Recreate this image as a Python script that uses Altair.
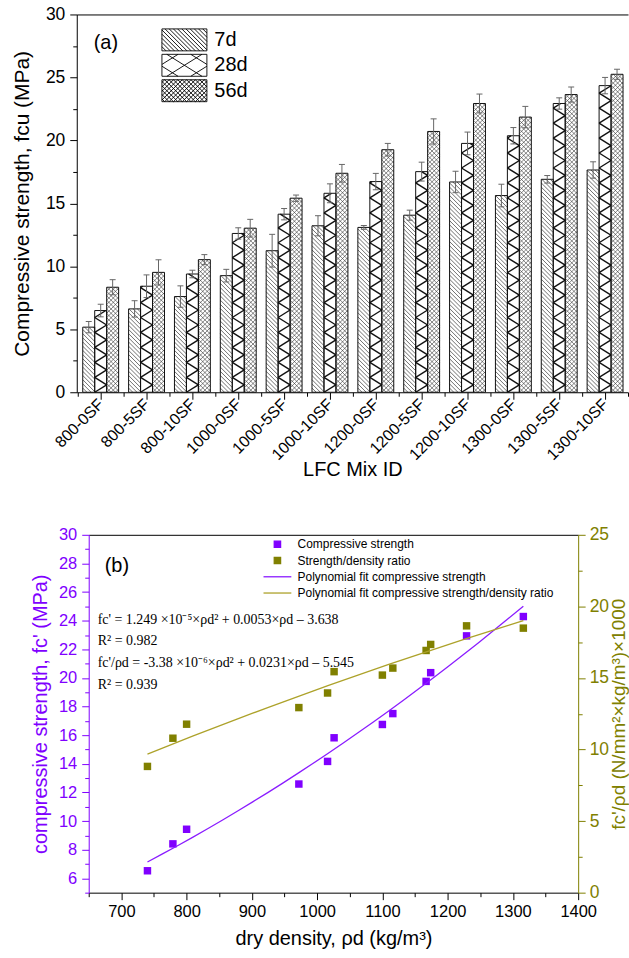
import json
import altair as alt
import numpy as np
import pandas as pd

# ---------------- data ----------------
mixes = ["800-0SF", "800-5SF", "800-10SF", "1000-0SF", "1000-5SF", "1000-10SF",
         "1200-0SF", "1200-5SF", "1200-10SF", "1300-0SF", "1300-5SF", "1300-10SF"]
ages = ["7d", "28d", "56d"]
fcu_7d = [5.17, 6.62, 7.60, 9.26, 11.24, 13.22, 13.09, 14.06, 16.70, 15.62, 16.91, 17.65]
err_7d = [0.45, 0.65, 0.85, 0.50, 1.30, 0.80, 0.15, 0.40, 0.85, 0.90, 0.30, 0.65]
fcu_28d = [6.49, 8.42, 9.39, 12.61, 14.14, 15.80, 16.73, 17.52, 19.76, 20.37, 22.93, 24.35]
err_28d = [0.50, 0.90, 0.30, 0.45, 0.45, 0.75, 0.65, 0.75, 0.90, 0.65, 0.45, 0.65]
fcu_56d = [8.34, 9.52, 10.53, 13.03, 15.41, 17.39, 19.26, 20.71, 22.93, 21.85, 23.64, 25.25]
err_56d = [0.60, 1.00, 0.40, 0.70, 0.25, 0.70, 0.50, 1.00, 0.75, 0.85, 0.60, 0.40]

density = [740, 779, 800, 972, 1016, 1026, 1100, 1116, 1167, 1174, 1229, 1316]
strength = [6.53, 8.41, 9.43, 12.59, 14.17, 15.82, 16.75, 17.51, 19.76, 20.37, 22.94, 24.29]
ratio = [8.82, 10.79, 11.77, 12.93, 13.95, 15.44, 15.20, 15.69, 16.92, 17.34, 18.64, 18.48]

legend_b = ["Compressive strength", "Strength/density ratio",
            "Polynomial fit compressive strength",
            "Polynomial fit compressive strength/density ratio"]
equations = ["fc' = 1.249 ×10⁻⁵×ρd² + 0.0053×ρd – 3.638",
             "R² = 0.982",
             "fc'/ρd = -3.38 ×10⁻⁶×ρd² + 0.0231×ρd – 5.545",
             "R² = 0.939"]

# ---------------- style ----------------
PURPLE = "#8000FF"
PURPLE_LINE = "#8A1CFF"
OLIVE = "#808000"
OLIVE_LINE = "#ADA22A"
SANS = "Liberation Sans"
SERIF = "Liberation Serif"

W1, H1 = 553, 379          # top plot area
XMIN, XMAX = -0.522, 11.5
pxx = W1 / (XMAX - XMIN)
pxy = H1 / 30.0
BAR_PX = 12.0
bw = BAR_PX / pxx
CAP_PX = 3.0

W2, H2 = 503, 359          # bottom plot area (left axis shifted in by 12 px)
SHIFT = 12

# hatch families: (slope in y-up pixel space, vertical spacing px)
HATCH = {"7d": [(-1.0, 4.2)],
         "28d": [(0.625, 15.0), (-0.625, 15.0)],
         "56d": [(1.0, 4.4), (-1.0, 4.4)]}
HSTYLE = {"7d": (0.7, "#333333"), "28d": (1.4, "#111111"), "56d": (0.6, "#333333")}


def clip_line(m, c, xa, xb, ya, yb):
    if m > 0:
        lo, hi = (ya - c) / m, (yb - c) / m
    else:
        lo, hi = (yb - c) / m, (ya - c) / m
    lo, hi = max(lo, xa), min(hi, xb)
    if hi - lo < 1e-6:
        return None
    return lo, m * lo + c, hi, m * hi + c


def family(m, spacing, xa, xb, ya, yb):
    ends = [m * xa, m * xb]
    cmin, cmax = ya - max(ends), yb - min(ends)
    out = []
    for k in range(int(np.floor(cmin / spacing)), int(np.ceil(cmax / spacing)) + 1):
        seg = clip_line(m, k * spacing, xa, xb, ya, yb)
        if seg:
            out.append(seg)
    return out


vals = {"7d": fcu_7d, "28d": fcu_28d, "56d": fcu_56d}
errs = {"7d": err_7d, "28d": err_28d, "56d": err_56d}
rows = []
for j, age in enumerate(ages):
    for i, mix in enumerate(mixes):
        c = i + (j - 1) * bw
        v, e = vals[age][i], errs[age][i]
        rows.append(dict(mix=mix, age=age, c=c, x0=c - bw / 2, x1=c + bw / 2, v=v,
                         lo=v - e, hi=v + e, cl=c - CAP_PX / pxx, cr=c + CAP_PX / pxx))
bars = pd.DataFrame(rows)


def bar_hatch(age):
    segs = []
    for r in bars[bars.age == age].itertuples():
        hpx = r.v * pxy
        for m, sp in HATCH[age]:
            for u0, v0, u1, v1 in family(m, sp, 0.0, BAR_PX, 0.0, hpx):
                segs.append({"x": round(r.x0 + u0 / pxx, 5), "x2": round(r.x0 + u1 / pxx, 5),
                             "y": round(v0 / pxy, 5), "y2": round(v1 / pxy, 5)})
    return pd.DataFrame(segs)


def swatch_path(age, hw=2.05, hh=1.0, r=11.0):
    parts = [f"M{-hw},{-hh}H{hw}V{hh}H{-hw}Z"]
    for m, sp in HATCH[age]:
        for x0, y0, x1, y1 in family(-m, sp / r, -hw, hw, -hh, hh):
            parts.append(f"M{x0:.3f},{y0:.3f}L{x1:.3f},{y1:.3f}")
    return "".join(parts)


xs = alt.Scale(domain=[XMIN, XMAX], nice=False, zero=False)
ys = alt.Scale(domain=[0, 30], nice=False, zero=False)

ax_common = dict(grid=False, labelFlush=False, labelOverlap=False, tickColor="black",
                 domainColor="black", labelColor="black", titleColor="black",
                 labelFont=SANS, titleFont=SANS, titleFontWeight="normal")

x_major = alt.Axis(orient="bottom", values=list(range(len(mixes))),
                   labelExpr=json.dumps(mixes).replace('"', "'") + "[datum.value]",
                   labelAngle=315, labelAlign="right", labelBaseline="middle",
                   labelFontSize=16, labelPadding=2, tickSize=7,
                   title="LFC Mix ID", titleFontSize=20, titlePadding=-3, **ax_common)
x_minor = alt.Axis(orient="bottom", values=[i + 0.5 for i in range(-1, len(mixes))],
                   labels=False, domain=False, tickSize=4, title=None, grid=False,
                   tickColor="black")
y_major = alt.Axis(orient="left", values=list(range(0, 31, 5)), labelFontSize=17.5,
                   tickSize=7, labelPadding=5, title="Compressive strength, fcu (MPa)",
                   titleFontSize=21, titlePadding=13, **ax_common)
y_minor = alt.Axis(orient="left", values=[2.5 + 5 * k for k in range(6)], labels=False,
                   domain=False, tickSize=4, title=None, grid=False, tickColor="black")
x_top = alt.Axis(orient="top", labels=False, ticks=False, domain=True,
                 domainColor="black", title=None, grid=False)

base1 = alt.Chart(bars)
fill_layer = base1.mark_rect(fill="white").encode(
    x=alt.X("x0:Q", scale=xs, axis=x_major), x2="x1:Q",
    y=alt.Y("v:Q", scale=ys, axis=y_major), y2=alt.datum(0))

hatch_layers = []
for age in ages:
    sw, col = HSTYLE[age]
    hatch_layers.append(alt.Chart(bar_hatch(age)).mark_rule(strokeWidth=sw, color=col).encode(
        x=alt.X("x:Q", scale=xs, axis=None), x2="x2:Q",
        y=alt.Y("y:Q", scale=ys, axis=None), y2="y2:Q"))

outline = base1.mark_rect(fillOpacity=0, stroke="#111111", strokeWidth=1).encode(
    x=alt.X("x0:Q", scale=xs, axis=x_minor), x2="x1:Q",
    y=alt.Y("v:Q", scale=ys, axis=y_minor), y2=alt.datum(0))

err = base1.mark_rule(color="#666666", strokeWidth=1).encode(
    x=alt.X("c:Q", scale=xs, axis=x_top), y=alt.Y("lo:Q", scale=ys, axis=None), y2="hi:Q")
cap_hi = base1.mark_rule(color="#666666", strokeWidth=1).encode(
    x=alt.X("cl:Q", scale=xs, axis=None), x2="cr:Q", y=alt.Y("hi:Q", scale=ys, axis=None))
cap_lo = base1.mark_rule(color="#666666", strokeWidth=1).encode(
    x=alt.X("cl:Q", scale=xs, axis=None), x2="cr:Q", y=alt.Y("lo:Q", scale=ys, axis=None))

legend_a = base1.transform_filter("false").mark_point(
    filled=False, color="black", strokeWidth=0.9).encode(
    shape=alt.Shape("age:N", scale=alt.Scale(domain=ages, range=[swatch_path(a) for a in ages]),
                    legend=alt.Legend(title=None, orient="none", legendX=85, legendY=14,
                                      symbolSize=484, symbolOffset=11.5, labelOffset=18.5,
                                      labelFont=SANS, labelFontSize=20, labelColor="black",
                                      symbolStrokeColor="black", symbolStrokeWidth=0.9,
                                      symbolOpacity=1, rowPadding=-1.5, padding=0)))

label_a = alt.Chart(pd.DataFrame({"t": ["(a)"]})).mark_text(
    font=SANS, fontSize=20, align="left", baseline="middle", color="black").encode(
    text="t:N", x=alt.value(17), y=alt.value(29))

top = alt.layer(fill_layer, *hatch_layers, outline, err, cap_hi, cap_lo, legend_a, label_a).resolve_axis(
    x="independent", y="independent").properties(width=W1, height=H1)

# ---------------- bottom panel ----------------
scat = pd.DataFrame({"density": density, "strength": strength, "ratio": ratio})
xs2 = alt.Scale(domain=[650, 1400], range=[SHIFT, W2], nice=False, zero=False)
yl = alt.Scale(domain=[5, 30], nice=False, zero=False)
yr = alt.Scale(domain=[0, 25], nice=False, zero=False)

xb_major = alt.Axis(orient="bottom", values=list(range(700, 1401, 100)), format="d",
                    labelFontSize=16.5, tickSize=7, labelPadding=4,
                    title="dry density, ρd (kg/m³)",
                    titleFontSize=20, titlePadding=8, **ax_common)
xb_minor = alt.Axis(orient="bottom", values=list(range(650, 1400, 100)), labels=False,
                    domain=False, tickSize=4, title=None, grid=False, tickColor="black")
xb_top = alt.Axis(orient="top", labels=False, ticks=False, domain=True, domainColor="black",
                  title=None, grid=False)
yl_major = alt.Axis(orient="left", values=list(range(6, 31, 2)), offset=-SHIFT,
                    labelFontSize=16.5, tickSize=7, labelPadding=5,
                    title="compressive strength, fc' (MPa)", titleFontSize=20, titlePadding=8,
                    grid=False, labelFlush=False, labelOverlap=False, tickColor=PURPLE,
                    domainColor=PURPLE, labelColor=PURPLE, titleColor=PURPLE,
                    labelFont=SANS, titleFont=SANS, titleFontWeight="normal")
yl_minor = alt.Axis(orient="left", values=list(range(5, 30, 2)), offset=-SHIFT, labels=False,
                    domain=False, tickSize=4, title=None, grid=False, tickColor=PURPLE)
yr_major = alt.Axis(orient="right", values=list(range(0, 26, 5)), labelFontSize=17.5,
                    tickSize=7, labelPadding=4, title="fc'/ρd (N/mm²×kg/m³)×1000",
                    titleFontSize=19, titlePadding=1, titleAngle=270, titleBaseline="top",
                    grid=False, labelFlush=False, labelOverlap=False, tickColor=OLIVE,
                    domainColor=OLIVE, labelColor=OLIVE, titleColor=OLIVE,
                    labelFont=SANS, titleFont=SANS, titleFontWeight="normal")
yr_minor = alt.Axis(orient="right", values=[2.5 + 5 * k for k in range(5)], labels=False,
                    domain=False, tickSize=4, title=None, grid=False, tickColor=OLIVE)

base2 = alt.Chart(scat)
pts_p = base2.mark_square(size=56, color=PURPLE, opacity=1).encode(
    x=alt.X("density:Q", scale=xs2, axis=xb_major),
    y=alt.Y("strength:Q", scale=yl, axis=yl_major))
fit_p = base2.transform_regression("density", "strength", method="poly", order=2).mark_line(
    color=PURPLE_LINE, strokeWidth=1.3).encode(
    x=alt.X("density:Q", scale=xs2, axis=xb_minor),
    y=alt.Y("strength:Q", scale=yl, axis=yl_minor))
pts_o = base2.mark_square(size=56, color=OLIVE, opacity=1).encode(
    x=alt.X("density:Q", scale=xs2, axis=xb_top),
    y=alt.Y("ratio:Q", scale=yr, axis=yr_major))
fit_o = base2.transform_regression("density", "ratio", method="poly", order=2).mark_line(
    color=OLIVE_LINE, strokeWidth=1.3).encode(
    x=alt.X("density:Q", scale=xs2, axis=None),
    y=alt.Y("ratio:Q", scale=yr, axis=yr_minor))

sq = "M-0.85,-0.85H0.85V0.85H-0.85Z"
ln = "M-3.73,0H3.73"
leg_b = alt.Legend(title=None, orient="none", legendX=195.3, legendY=3.5, symbolSize=56,
                   symbolOffset=0, labelOffset=14.2, labelFont=SANS, labelFontSize=12,
                   labelColor="black", symbolStrokeWidth=1.3, symbolOpacity=1,
                   rowPadding=4.3, padding=0, labelLimit=400)
legend_b_layer = base2.transform_filter("false").mark_point(filled=True, strokeWidth=1.3).encode(
    fill=alt.Fill("s:N", scale=alt.Scale(domain=legend_b, range=[PURPLE, OLIVE, PURPLE_LINE, OLIVE_LINE]), legend=leg_b),
    stroke=alt.Stroke("s:N", scale=alt.Scale(domain=legend_b, range=[PURPLE, OLIVE, PURPLE_LINE, OLIVE_LINE]), legend=leg_b),
    shape=alt.Shape("s:N", scale=alt.Scale(domain=legend_b, range=[sq, sq, ln, ln]), legend=leg_b))

label_b = alt.Chart(pd.DataFrame({"t": ["(b)"]})).mark_text(
    font=SANS, fontSize=20, align="left", baseline="middle", color="black").encode(
    text="t:N", x=alt.value(28), y=alt.value(31))

eq_layers = []
for k, line in enumerate(equations):
    eq_layers.append(alt.Chart(pd.DataFrame({"t": [line]})).mark_text(
        font=SERIF, fontSize=14, align="left", baseline="middle", color="black").encode(
        text="t:N", x=alt.value(21), y=alt.value(85 + 22 * k)))

bottom = alt.layer(pts_p, fit_p, pts_o, fit_o, legend_b_layer, label_b, *eq_layers).resolve_scale(
    y="independent").resolve_axis(x="independent", y="independent").properties(width=W2, height=H2)

chart = alt.vconcat(top, bottom, spacing=46).resolve_scale(
    shape="independent", fill="independent", stroke="independent"
).resolve_legend(
    shape="independent", fill="independent", stroke="independent"
).properties(
    padding={"left": 11, "top": 4, "right": 0, "bottom": 0}
).configure_view(stroke=None)

chart.save("out.html", embed_options={"renderer": "svg", "actions": False})
